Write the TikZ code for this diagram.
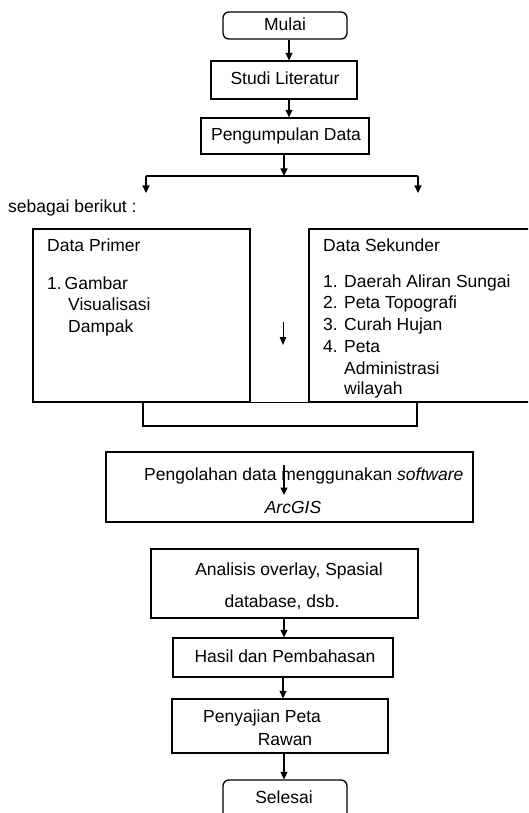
\documentclass[tikz,border=0pt]{standalone}
\usepackage{fontspec}
\setmainfont{Liberation Sans}
\usetikzlibrary{arrows.meta}
\begin{document}
\begin{tikzpicture}[x=1pt,y=-1pt,
  box/.style={draw, line width=1.3pt, inner sep=0pt},
  rbox/.style={box, rounded corners=6pt},
  txt/.style={font=\fontsize{17.5}{20}\selectfont, text=black, inner sep=0pt, text height=12pt, text depth=3.5pt},
  conn/.style={line width=1.2pt},
  arr/.style={conn, -{Triangle[length=7.5pt,width=7pt]}}]
\useasboundingbox (0,0) rectangle (528,813);
\begin{scope}
\clip (0,0) rectangle (528,813);
% boxes
\node[rbox, minimum width=124pt, minimum height=27pt] (mulai) at (285,25.5) {};
\node[box, minimum width=146pt, minimum height=38pt] (studi) at (284,80) {};
\node[box, minimum width=168pt, minimum height=36pt] (kumpul) at (285,136) {};
\node[box, minimum width=217pt, minimum height=173pt] (primer) at (141.5,315.5) {};
\node[box, minimum width=221pt, minimum height=173pt] (sekunder) at (419.5,315.5) {};
\node[box, minimum width=367pt, minimum height=70pt] (olah) at (289.5,487) {};
\node[box, minimum width=267pt, minimum height=69pt] (analisis) at (284.5,583.5) {};
\node[box, minimum width=220pt, minimum height=39pt] (hasil) at (283,657.5) {};
\node[box, minimum width=216pt, minimum height=54pt] (saji) at (280,726) {};
\node[rbox, minimum width=124pt, minimum height=50pt] (selesai) at (285,805) {};
\end{scope}
% texts
\node[txt] (tmulai) at (285,26) {Mulai};
\node[txt] (tstudi) at (285,80) {Studi Literatur};
\node[txt] (tkumpul) at (286,136) {Pengumpulan Data};
\node[txt, anchor=west] (tberikut) at (8,208) {sebagai berikut :};
\node[txt, anchor=west] (tprimer) at (47,247) {Data Primer};
\node[txt, anchor=west] (tp1) at (47,285) {1.\,Gambar};
\node[txt, anchor=west] (tp2) at (68,306) {Visualisasi};
\node[txt, anchor=west] (tp3) at (68,328) {Dampak};
\node[txt, anchor=west] (tsek) at (323,247) {Data Sekunder};
\node[txt, anchor=west] (ts1n) at (323,283) {1.};
\node[txt, anchor=west] (ts1) at (344,283) {Daerah Aliran Sungai};
\node[txt, anchor=west] (ts2n) at (323,304) {2.};
\node[txt, anchor=west] (ts2) at (344,304) {Peta Topografi};
\node[txt, anchor=west] (ts3n) at (323,326) {3.};
\node[txt, anchor=west] (ts3) at (344,326) {Curah Hujan};
\node[txt, anchor=west] (ts4n) at (323,348) {4.};
\node[txt, anchor=west] (ts4) at (344,348) {Peta};
\node[txt, anchor=west] (ts5) at (344,370) {Administrasi};
\node[txt, anchor=west] (ts6) at (344,390) {wilayah};
\node[txt, anchor=west] (tolah1) at (144,476) {Pengolahan data menggunakan \textit{software}};
\node[txt] (tolah2) at (293,509) {\textit{ArcGIS}};
\node[txt] (tana1) at (289,571) {Analisis overlay, Spasial};
\node[txt] (tana2) at (282,603) {database, dsb.};
\node[txt] (thasil) at (285,658) {Hasil dan Pembahasan};
\node[txt, anchor=west] (tsaji1) at (203,718) {Penyajian Peta};
\node[txt] (tsaji2) at (285,741) {Rawan};
\node[txt] (tselesai) at (284,799) {Selesai};
% connector points
\coordinate (b0) at (284,176);
\coordinate (bl) at (146,176);
\coordinate (br) at (418,176);
\coordinate (bld) at (146,193);
\coordinate (brd) at (418,193);
\coordinate (m0) at (283,322);
\coordinate (m1) at (283,345);
\coordinate (k0) at (143,402);
\coordinate (k1) at (143,426);
\coordinate (k2) at (417,426);
\coordinate (k3) at (417,402);
\coordinate (o0) at (284,465);
\coordinate (o1) at (284,495);
% connectors
\draw[arr] (mulai.south -| 289,0) -- (studi.north -| 289,0);
\draw[arr] (studi.south -| 289,0) -- (kumpul.north -| 289,0);
\draw[arr] (kumpul.south -| b0) -- (b0);
\draw[conn] (bl) -- (br);
\draw[arr] (bl) -- (bld);
\draw[arr] (br) -- (brd);
\draw[box] (primer.south east) -- (sekunder.south west);
\draw[conn, -{Triangle[length=8pt,width=6.5pt]}, line width=1pt] (m0) -- (m1);
\draw[conn] (k0) -- (k1) -- (k2) -- (k3);
\draw[arr] (o0) -- (o1);
\draw[arr] (analisis.south -| 284,0) -- (hasil.north -| 284,0);
\draw[arr] (hasil.south -| 283,0) -- (saji.north -| 283,0);
\draw[arr] (saji.south -| 284,0) -- (selesai.north -| 284,0);
\end{tikzpicture}
\end{document}
